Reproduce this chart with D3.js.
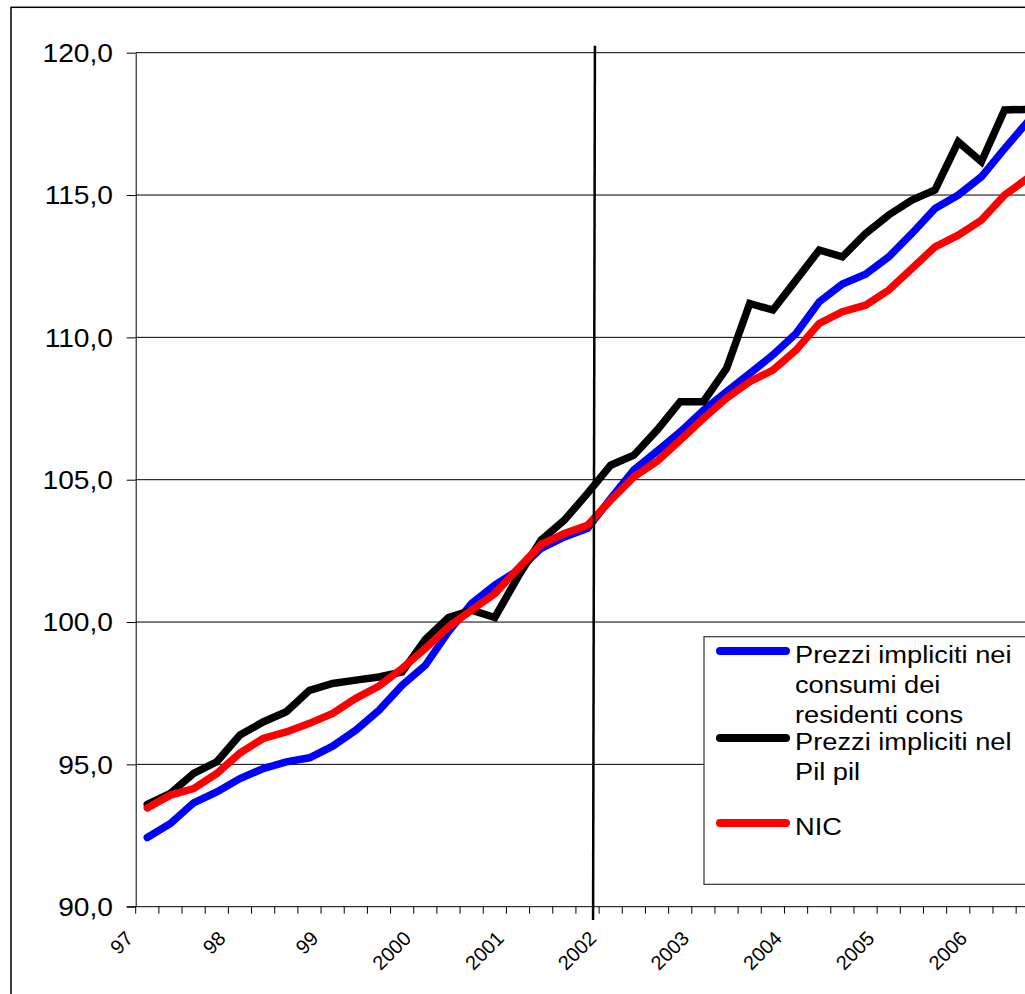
<!DOCTYPE html>
<html>
<head>
<meta charset="utf-8">
<script src="https://cdn.jsdelivr.net/npm/d3@7"></script>
<style>
  html, body { margin: 0; padding: 0; background: #fff; overflow: hidden; }
  svg { display: block; font-family: "Liberation Sans", Arial, sans-serif; }
</style>
</head>
<body>
<svg id="chart" width="1025" height="994"></svg>
<script>
// ---- data ----
const years = ["1997","1998","1999","2000","2001","2002","2003","2004","2005","2006"];
const quarters = ["T1","T2","T3","T4"];
const yearLabels = ["97","98","99","2000","2001","2002","2003","2004","2005","2006"];
const yTicks = [90, 95, 100, 105, 110, 115, 120];

const seriesNames = ["Prezzi impliciti nei consumi dei residenti cons", "Prezzi impliciti nel Pil pil", "NIC"];
const legendLines = [["Prezzi impliciti nei", "consumi dei", "residenti cons"], ["Prezzi impliciti nel", "Pil pil"], ["NIC"]];
const seriesColors = ["#0000ff", "#000000", "#ff0000"];

const consValues = [92.43, 92.92, 93.65, 94.03, 94.50, 94.85, 95.09, 95.23, 95.64, 96.20,
  96.90, 97.78, 98.48, 99.66, 100.65, 101.30, 101.82, 102.59, 102.99, 103.29,
  104.34, 105.34, 106.00, 106.68, 107.44, 108.09, 108.73, 109.38, 110.14, 111.25,
  111.87, 112.22, 112.83, 113.65, 114.53, 115.00, 115.64, 116.63, 117.58];
const pilValues = [93.59, 93.98, 94.68, 95.09, 96.03, 96.49, 96.85, 97.60, 97.84, 97.96,
  98.07, 98.25, 99.39, 100.16, 100.42, 100.16, 101.59, 102.88, 103.58, 104.52,
  105.51, 105.86, 106.74, 107.74, 107.74, 108.91, 111.19, 110.96, 112.01, 113.07,
  112.83, 113.65, 114.30, 114.82, 115.18, 116.87, 116.17, 117.99, 118.01];
const nicValues = [93.47, 93.92, 94.15, 94.68, 95.40, 95.91, 96.14, 96.44, 96.79, 97.32,
  97.75, 98.37, 99.07, 99.83, 100.42, 101.00, 101.88, 102.73, 103.11, 103.40,
  104.28, 105.10, 105.65, 106.39, 107.15, 107.86, 108.44, 108.85, 109.55, 110.49,
  110.90, 111.13, 111.66, 112.42, 113.18, 113.59, 114.12, 115.00, 115.59];
// vertical marker line (category position, value) at 2002
const markerIndex = [19.32, 19.24];
const markerValues = [120.24, 89.53];

// ---- build ----
(function () {
const categories = [];
years.forEach(yr => quarters.forEach(q => categories.push(yr + " " + q)));
const series = [consValues, pilValues, nicValues];

const svg = d3.select("#chart");
svg.append("rect").attr("width", 1025).attr("height", 994).attr("fill", "#fff");

// outer chart border
svg.append("rect").attr("x", 11).attr("y", 7.3).attr("width", 1100).attr("height", 1100)
  .attr("fill", "none").attr("stroke", "#000").attr("stroke-width", 1.5);

const plotLeft = 135.7, plotTop = 52.7, plotBottom = 906.7;
const x = d3.scaleBand().domain(categories).range([plotLeft, plotLeft + 40 * 23.17]).padding(0);
const bw = x.bandwidth();
const y = d3.scaleLinear().domain([90, 120]).range([plotBottom, plotTop]);
const xc = i => x(categories[0]) + (i + 0.5) * bw;

// gridlines
svg.append("g").selectAll("line").data(yTicks.filter(v => v !== 90)).join("line")
  .attr("x1", plotLeft).attr("x2", 1030)
  .attr("y1", d => y(d)).attr("y2", d => y(d))
  .attr("stroke", "#000").attr("stroke-width", 1);

// y axis
const yAxis = svg.append("g").attr("transform", `translate(${plotLeft},0)`)
  .call(d3.axisLeft(y).tickValues(yTicks).tickSize(9).tickSizeOuter(0)
    .tickFormat(d => d.toFixed(1).replace(".", ",")));
yAxis.select(".domain").attr("stroke", "#000");
yAxis.selectAll(".tick line").attr("stroke", "#000");
yAxis.selectAll(".tick text")
  .attr("font-family", "Liberation Sans, Arial, sans-serif")
  .attr("font-size", 25.6).attr("fill", "#000")
  .attr("x", -22.7 / 1.1).attr("dy", "0.34em")
  .attr("transform", "scale(1.1,1)");

// x axis line
svg.append("line").attr("x1", plotLeft - 9).attr("x2", 1030)
  .attr("y1", plotBottom).attr("y2", plotBottom).attr("stroke", "#000").attr("stroke-width", 1);
// x tick marks at category boundaries
svg.append("g").selectAll("line").data(categories).join("line")
  .attr("x1", d => x(d)).attr("x2", d => x(d))
  .attr("y1", plotBottom).attr("y2", plotBottom + 7)
  .attr("stroke", "#000").attr("stroke-width", 1);

// x labels (first quarter of each year)
svg.append("g").selectAll("text").data(yearLabels).join("text")
  .attr("transform", (d, i) => `translate(${xc(i * 4) - 13},${plotBottom + 33}) rotate(-45)`)
  .attr("text-anchor", "end")
  .attr("font-size", 20).attr("fill", "#000")
  .text(d => d);

// series lines
const line = d3.line().x((d, i) => xc(i)).y(d => y(d));
series.forEach((s, k) => {
  svg.append("path").datum(s).attr("d", line)
    .attr("fill", "none").attr("stroke", seriesColors[k])
    .attr("stroke-width", 7.5).attr("stroke-linejoin", "miter")
    .attr("stroke-miterlimit", 4).attr("stroke-linecap", "round");
});

// vertical marker at 2002
svg.append("line")
  .attr("x1", xc(markerIndex[0])).attr("y1", y(markerValues[0]))
  .attr("x2", xc(markerIndex[1])).attr("y2", y(markerValues[1]))
  .attr("stroke", "#000").attr("stroke-width", 2.5);

// legend
const lg = svg.append("g");
lg.append("rect").attr("x", 704).attr("y", 636.7).attr("width", 400).attr("height", 247.6)
  .attr("fill", "#fff").attr("stroke", "#333").attr("stroke-width", 1.2);
const itemBaselines = [663, 750, 835];
legendLines.forEach((lines, k) => {
  const b = itemBaselines[k];
  lg.append("line").attr("x1", 720).attr("x2", 786)
    .attr("y1", b - 12).attr("y2", b - 12)
    .attr("stroke", seriesColors[k]).attr("stroke-width", 8).attr("stroke-linecap", "round");
  lines.forEach((t, j) => {
    lg.append("text")
      .attr("transform", `translate(795,${b + j * 29.8}) scale(1.16,1)`)
      .attr("font-size", 23.5).attr("fill", "#000")
      .text(t);
  });
});
})();
</script>
</body>
</html>
